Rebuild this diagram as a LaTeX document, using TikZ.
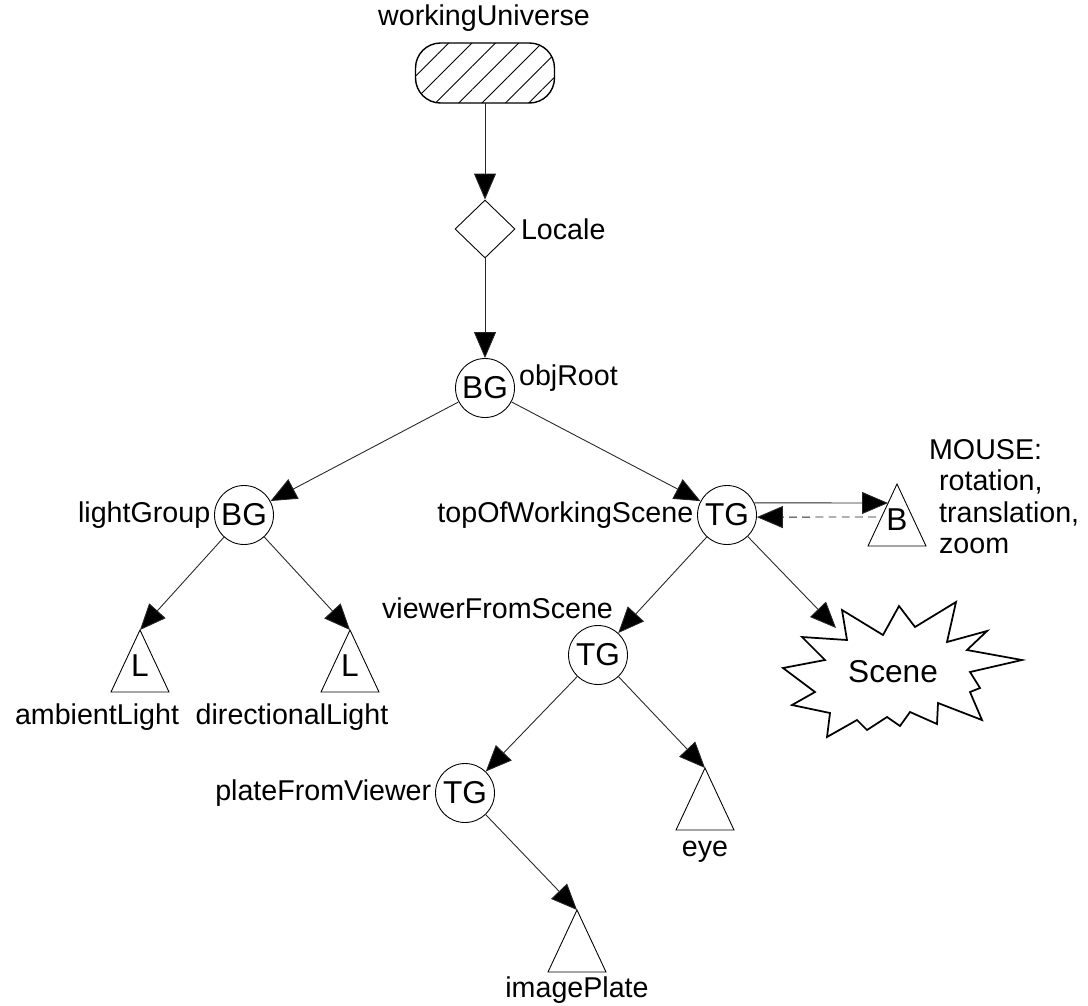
\documentclass[tikz,border=0pt]{standalone}
\usepackage{fontspec}
\setmainfont{Liberation Sans}
\usetikzlibrary{shapes.geometric,positioning,arrows.meta,patterns.meta,calc}

\begin{document}
\begin{tikzpicture}[
    x=0.02cm, y=-0.02cm,
    group/.style={draw, circle, line width=0.5pt, minimum size=1.18cm, inner sep=0pt, font=\fontsize{18}{20}\selectfont},
    link/.style={line width=0.5pt, draw=black!85, -{Triangle[length=0.52cm, width=0.44cm, fill=black]}},
    leaf/.style={draw, line width=0.5pt},
    leafletter/.style={font=\fontsize{18}{20}\selectfont, inner sep=0pt},
    lbl/.style={font=\fontsize{16.3}{18}\selectfont, inner sep=1pt},
    burst/.style={line width=1pt, line join=miter}
]
    \useasboundingbox (0,0) rectangle (1088,1005);

    % --- Universe and locale ---
    \node[draw, line width=0.8pt, rounded corners=0.5cm, minimum width=2.78cm, minimum height=1.2cm,
          pattern={Lines[angle=45, distance=0.33cm, line width=0.5pt]}] (wu) at (485,73) {};
    \node[lbl] at (484,18) {workingUniverse};
    \node[draw, diamond, line width=0.5pt, minimum width=1.2cm, minimum height=1.16cm, inner sep=0pt] (loc) at (485,229) {};
    \node[lbl, right=2pt of loc] {Locale};

    % --- Groups ---
    \node[group] (obj) at (485,388) {BG};
    \node[lbl, anchor=west] at (517,378) {objRoot};
    \node[group] (lg) at (244,515) {BG};
    \node[lbl, left=1pt of lg] {lightGroup};
    \node[group] (tows) at (727,515) {TG};
    \node[lbl, left=1pt of tows] {topOfWorkingScene};
    \node[group] (vfs) at (598,655) {TG};
    \node[lbl, anchor=west] at (380,608) {viewerFromScene};
    \node[group] (pfv) at (465,793) {TG};
    \node[lbl, left=1pt of pfv] {plateFromViewer};

    % --- Leaves (named by their apex) ---
    \foreach \name/\x/\y/\letter in {amb/140/630/L, dir/350/630/L, eye/705/768/{}, plate/577/910/{}, mouse/897/484/B} {
        \coordinate (\name) at (\x,\y);
        \draw[leaf] (\name) -- ++(-29,62) -- ++(58,0) -- cycle;
        \node[leafletter] (\name-txt) at (\x,\y+36) {\letter};
    }
    \node[lbl] at (97,717) {ambientLight};
    \node[lbl] at (292,717) {directionalLight};
    \node[lbl] at (705,852) {eye};
    \node[lbl] at (577,990) {imagePlate};

    % --- Mouse behavior ---
    \node[lbl, anchor=north west, align=left] (mousetxt) at (927,437)
        {MOUSE:\\\hspace*{0.2cm}rotation,\\\hspace*{0.2cm}translation,\\\hspace*{0.2cm}zoom};
    \coordinate (mouse-in) at (888,503);
    \coordinate (mouse-out) at (876,517);

    % --- Scene ---
    \draw[burst] (842,610) -- (847,640) -- (802,637) -- (825,660) -- (783,668) -- (815,692)
        -- (792,705) -- (830,713) -- (827,737) -- (857,720) -- (867,730) -- (887,717)
        -- (900,726) -- (910,712) -- (937,724) -- (938,703) -- (982,720) -- (970,692)
        -- (980,688) -- (970,672) -- (1022,660) -- (967,650) -- (987,631) -- (947,642)
        -- (956,602) -- (915,627) -- (899,606) -- (883,635) -- cycle;
    \node[leafletter] (scene) at (893,672) {Scene};
    \coordinate (scene-in) at (836,628);

    % --- Connections ---
    \draw[link] (wu) -- (loc);
    \draw[link] (loc) -- (obj);
    \draw[link] (obj) -- (lg);
    \draw[link] (obj) -- (tows);
    \draw[link] (lg) -- (amb);
    \draw[link] (lg) -- (dir);
    \draw[link] (tows) -- (vfs);
    \draw[link] (tows) -- (scene-in);
    \draw[link] (vfs) -- (pfv);
    \draw[link] (vfs) -- (eye);
    \draw[link] (pfv) -- (plate);
    \draw[link] (tows.24) -- (mouse-in);
    \draw[link, dash pattern=on 4.5pt off 3pt] (mouse-out) -- (tows.-4);

\end{tikzpicture}
\end{document}
